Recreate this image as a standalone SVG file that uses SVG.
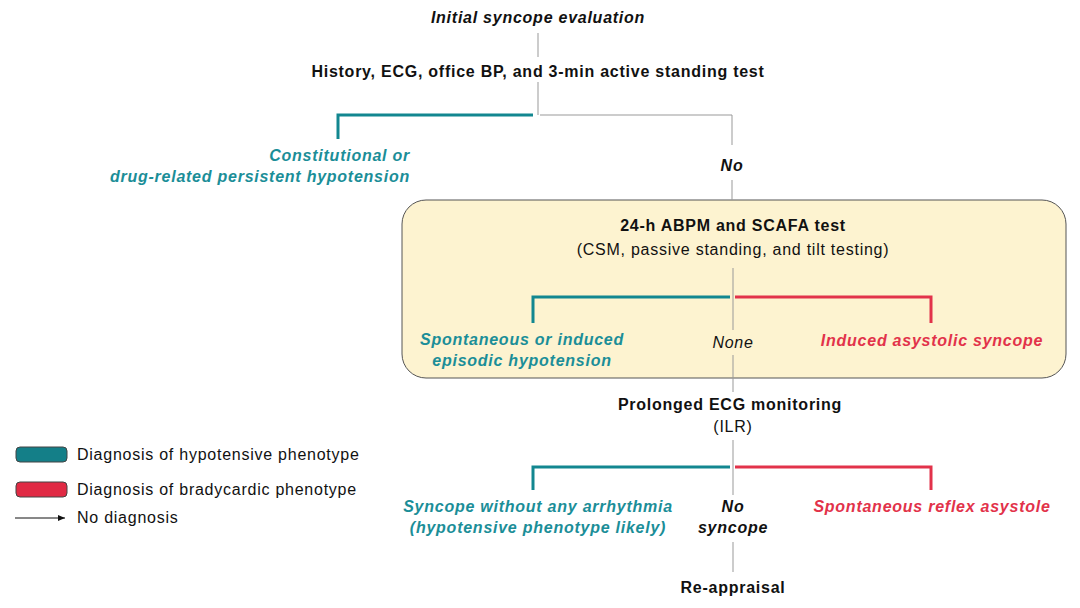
<svg xmlns="http://www.w3.org/2000/svg" width="1080" height="608" viewBox="0 0 1080 608">
<style>
text{font-family:"Liberation Sans",Arial,sans-serif;font-size:16px;letter-spacing:0.75px;fill:#111}
.b{font-weight:bold}.i{font-style:italic}
.t{fill:#1b8e98;font-weight:bold;font-style:italic}
.r{fill:#e2324a;font-weight:bold;font-style:italic}
.g{stroke:#999;stroke-width:1;fill:none}
.tl{stroke:#128790;stroke-width:3;fill:none}
.rl{stroke:#e2324a;stroke-width:3;fill:none}
</style>
<defs><marker id="a" markerWidth="8" markerHeight="8" refX="7" refY="4" orient="auto"><path d="M0,1 L7,4 L0,7z" fill="#111"/></marker></defs>
<rect width="1080" height="608" fill="#fff"/>
<g id="box"><rect x="402" y="200" width="664" height="178" rx="24" fill="#fdf3d0" stroke="#555" stroke-width="1"/></g>
<g id="connectors">
<path class="g" d="M538,33V57M538,82V115M540,115H732V145M732,180V200M733,268V330M733,355V392M733,440V495M733,542V572"/>
<path class="tl" d="M533,115H338V139M730,297H533V323M730,467H533V490"/>
<path class="rl" d="M735,297H931V323M735,467H931V490"/>
</g>
<g id="n1"><text x="538" y="23" text-anchor="middle" class="b i">Initial syncope evaluation</text></g>
<g id="n2"><text x="538" y="77" text-anchor="middle" class="b">History, ECG, office BP, and 3-min active standing test</text></g>
<g id="n3"><text x="410" y="161" text-anchor="end" class="t">Constitutional or</text><text x="410" y="182" text-anchor="end" class="t">drug-related persistent hypotension</text></g>
<g id="n4"><text x="732" y="171" text-anchor="middle" class="b i">No</text></g>
<g id="n5"><text x="733" y="231" text-anchor="middle" class="b">24-h ABPM and SCAFA test</text><text x="733" y="255" text-anchor="middle">(CSM, passive standing, and tilt testing)</text></g>
<g id="n6"><text x="522" y="345" text-anchor="middle" class="t">Spontaneous or induced</text><text x="522" y="366" text-anchor="middle" class="t">episodic hypotension</text></g>
<g id="n7"><text x="733" y="348" text-anchor="middle" class="i">None</text></g>
<g id="n8"><text x="932" y="346" text-anchor="middle" class="r">Induced asystolic syncope</text></g>
<g id="n9"><text x="730" y="410" text-anchor="middle" class="b">Prolonged ECG monitoring</text><text x="733" y="432" text-anchor="middle">(ILR)</text></g>
<g id="n10"><text x="538" y="512" text-anchor="middle" class="t">Syncope without any arrhythmia</text><text x="538" y="533" text-anchor="middle" class="t">(hypotensive phenotype likely)</text></g>
<g id="n11"><text x="733" y="512" text-anchor="middle" class="b i">No</text><text x="733" y="533" text-anchor="middle" class="b i">syncope</text></g>
<g id="n12"><text x="932" y="512" text-anchor="middle" class="r">Spontaneous reflex asystole</text></g>
<g id="n13"><text x="733" y="593" text-anchor="middle" class="b">Re-appraisal</text></g>
<g id="legend">
<rect x="16" y="447" width="51" height="15" rx="4" fill="#147f88" stroke="#444"/>
<text x="77" y="460">Diagnosis of hypotensive phenotype</text>
<rect x="16" y="482" width="51" height="15" rx="4" fill="#e02a44" stroke="#444"/>
<text x="77" y="495">Diagnosis of bradycardic phenotype</text>
<line x1="15" y1="518" x2="65" y2="518" stroke="#111" stroke-width="1" marker-end="url(#a)"/>
<text x="77" y="523">No diagnosis</text>
</g>
</svg>
